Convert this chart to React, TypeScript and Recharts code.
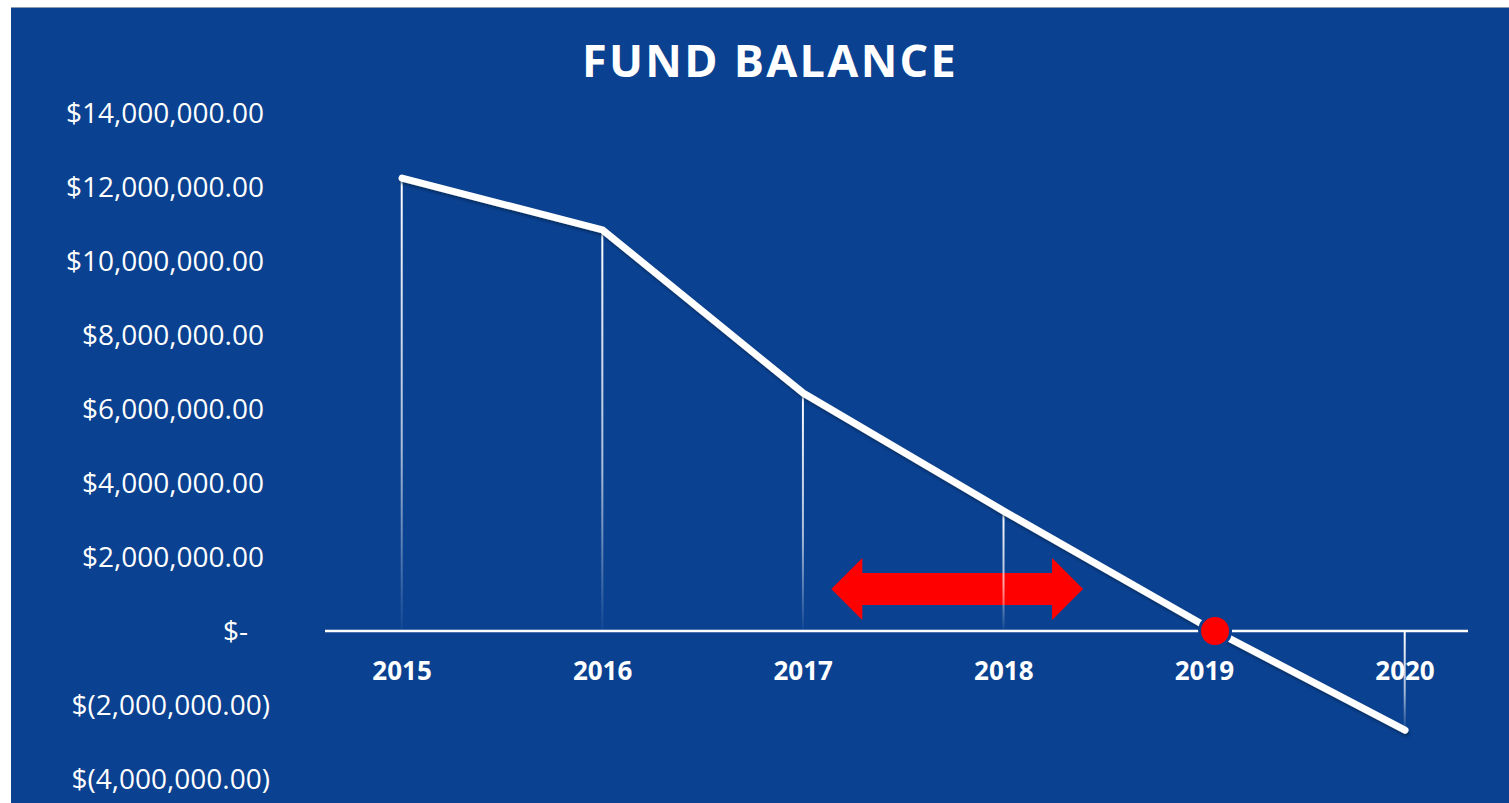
import React from 'react';
import {
  ComposedChart,
  Line,
  Bar,
  XAxis,
  YAxis,
  ReferenceLine,
  ReferenceDot,
  ReferenceArea,
} from 'recharts';

// ---- data ----
const YEARS = [2015, 2016, 2017, 2018, 2019, 2020];
const BALANCE = [12240000, 10840000, 6430000, 3240000, 150000, -2680000];
const Y_TICKS = [-4000000, -2000000, 0, 2000000, 4000000, 6000000, 8000000, 10000000, 12000000, 14000000];
const Y_DOMAIN = [-4000000, 14000000];
const X_DOMAIN = [2014.616, 2020.314];
const TITLE = 'FUND BALANCE';
// annotation arrow extent (in data units)
const ARROW_X = [2017.14, 2018.395];
const ARROW_Y = [300000, 1970000];

const data = YEARS.map((year, i) => ({ year, balance: BALANCE[i] }));

// year where the balance crosses zero (interpolated between the surrounding data points)
const ZERO_CROSS = (() => {
  for (let i = 0; i < BALANCE.length - 1; i++) {
    const a = BALANCE[i];
    const b = BALANCE[i + 1];
    if (a >= 0 && b < 0) return YEARS[i] + a / (a - b);
  }
  return YEARS[YEARS.length - 1];
})();

const BG = '#0a4190';
const FONT = '"Open Sans", sans-serif';

const fmt = (v: number) =>
  v.toLocaleString('en-US', { minimumFractionDigits: 2, maximumFractionDigits: 2 });

const YTick = (props: any) => {
  const { x, y, payload } = props;
  const v = payload.value as number;
  let label: string;
  let dx = 0;
  if (v === 0) {
    label = '$-';
    dx = -16;
  } else if (v < 0) {
    label = '$(' + fmt(-v) + ')';
    dx = 6;
  } else {
    label = '$' + fmt(v);
  }
  return (
    <text
      x={x + dx}
      y={y}
      dy="0.355em"
      textAnchor="end"
      fill="#ffffff"
      fontSize={28}
      fontFamily={FONT}
    >
      {label}
    </text>
  );
};

const ArrowShape = (props: any) => {
  const { x, y, width: w, height: h } = props;
  if (x == null || y == null) return null;
  const hl = 31;
  const mid = y + h / 2;
  const st = y + h * 0.24;
  const sb = y + h * 0.76;
  const pts = [
    [x, mid],
    [x + hl, y],
    [x + hl, st],
    [x + w - hl, st],
    [x + w - hl, y],
    [x + w, mid],
    [x + w - hl, y + h],
    [x + w - hl, sb],
    [x + hl, sb],
    [x + hl, y + h],
  ]
    .map((p) => p.join(','))
    .join(' ');
  return <polygon points={pts} fill="#ff0000" />;
};

export default function App() {
  return (
    <div
      style={{
        position: 'absolute',
        left: 11,
        top: 7,
        width: 1498,
        height: 796,
        background: BG,
        borderTop: '1px solid #8c9ab0',
        boxSizing: 'border-box',
        overflow: 'hidden',
      }}
    >
      <div
        style={{
          position: 'absolute',
          top: 29,
          left: 10,
          width: '100%',
          textAlign: 'center',
          color: '#ffffff',
          fontFamily: FONT,
          fontWeight: 700,
          fontSize: 45,
          lineHeight: '45px',
          letterSpacing: 2.3,
        }}
      >
        {TITLE}
      </div>
      <div style={{ position: 'absolute', left: 0, top: -1 }}>
        <ComposedChart
          width={1498}
          height={796}
          data={data}
          margin={{ top: 106, right: 41, bottom: 24, left: 0 }}
        >
          <defs>
            <linearGradient id="dropGrad" x1="0" y1="0" x2="0" y2="1">
              <stop offset="0" stopColor="#ffffff" stopOpacity={1} />
              <stop offset="0.6" stopColor="#ffffff" stopOpacity={0.65} />
              <stop offset="1" stopColor="#ffffff" stopOpacity={0.03} />
            </linearGradient>
            <filter id="lineShadow" x="-5%" y="-5%" width="110%" height="120%">
              <feDropShadow dx="1" dy="2.5" stdDeviation="1.2" floodColor="#001a40" floodOpacity="0.55" />
            </filter>
          </defs>
          <XAxis
            dataKey="year"
            type="number"
            domain={X_DOMAIN}
            ticks={YEARS}
            hide
          />
          <YAxis
            type="number"
            domain={Y_DOMAIN}
            ticks={Y_TICKS}
            width={314}
            axisLine={false}
            tickLine={false}
            tickMargin={55}
            interval={0}
            tick={<YTick />}
          />
          <ReferenceArea
            x1={ARROW_X[0]}
            x2={ARROW_X[1]}
            y1={ARROW_Y[0]}
            y2={ARROW_Y[1]}
            shape={<ArrowShape />}
          />
          <ReferenceLine y={0} stroke="#ffffff" strokeWidth={2.5} />
          <Bar dataKey="balance" barSize={2} fill="url(#dropGrad)" isAnimationActive={false} />
          <Line
            type="linear"
            dataKey="balance"
            stroke="#ffffff"
            strokeWidth={7}
            strokeLinecap="round"
            dot={false}
            activeDot={false}
            filter="url(#lineShadow)"
            isAnimationActive={false}
          />
          <ReferenceDot
            x={ZERO_CROSS}
            y={0}
            r={15.5}
            fill="#ff0000"
            stroke={BG}
            strokeWidth={3}
          />
          {YEARS.map((yr) => (
            <ReferenceDot
              key={yr}
              x={yr}
              y={0}
              r={0}
              fill="none"
              stroke="none"
              label={{
                value: String(yr),
                position: 'bottom',
                offset: 31,
                fill: '#ffffff',
                fontSize: 26,
                fontWeight: 700,
                fontFamily: FONT,
              }}
            />
          ))}
        </ComposedChart>
      </div>
    </div>
  );
}
